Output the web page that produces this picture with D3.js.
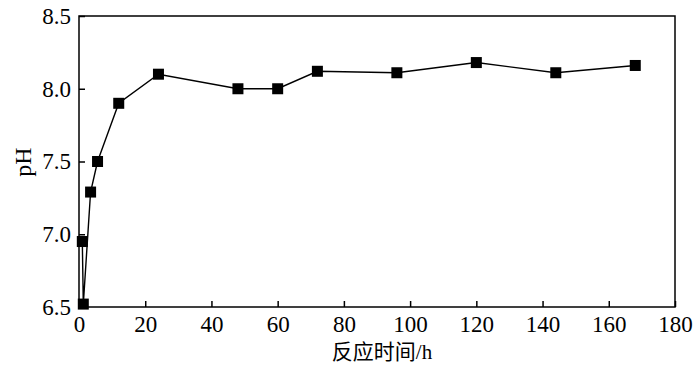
<!DOCTYPE html>
<html>
<head>
<meta charset="utf-8">
<script src="https://cdn.jsdelivr.net/npm/d3@7"></script>
<style>
  body { margin: 0; background: #fff; }
</style>
</head>
<body>
<script>
const hours = [1, 1.3, 3.5, 5.6, 12, 24, 48, 60, 72, 96, 120, 144, 168]
const phValues = [6.95, 6.52, 7.29, 7.5, 7.9, 8.1, 8.0, 8.0, 8.12, 8.11, 8.18, 8.11, 8.16]
const xTicks = [0, 20, 40, 60, 80, 100, 120, 140, 160, 180]
const yTicks = [6.5, 7.0, 7.5, 8.0, 8.5]

const data = hours.map((h, i) => ({ h, ph: phValues[i] }))

const width = 700
const height = 369
const margin = { top: 16, right: 25, bottom: 62, left: 79 }
const serif = '"Liberation Serif", "Times New Roman", serif'
const cjk = '"Liberation Serif", "Noto Sans CJK SC", serif'

const svg = d3.select('body')
    .append('svg')
    .attr('width', width)
    .attr('height', height)

const x = d3.scaleLinear()
    .domain([0, 180])
    .range([margin.left, width - margin.right])

const y = d3.scaleLinear()
    .domain([6.5, 8.5])
    .range([height - margin.bottom, margin.top])

// frame
svg.append('rect')
    .attr('x', margin.left)
    .attr('y', margin.top)
    .attr('width', width - margin.left - margin.right)
    .attr('height', height - margin.top - margin.bottom)
    .attr('fill', 'none')
    .attr('stroke', '#000')
    .attr('stroke-width', 1.5)

// bottom axis, ticks inward
const xAxis = svg.append('g')
    .attr('transform', `translate(0, ${height - margin.bottom})`)
    .call(d3.axisBottom(x).tickValues(xTicks).tickSize(-6).tickPadding(9).tickFormat(d3.format('d')))
xAxis.select('.domain').remove()
xAxis.selectAll('line').attr('stroke-width', 1.5)

// left axis, ticks inward
const yAxis = svg.append('g')
    .attr('transform', `translate(${margin.left}, 0)`)
    .call(d3.axisLeft(y).tickValues(yTicks).tickSize(-6).tickPadding(8).tickFormat(d3.format('.1f')))
yAxis.select('.domain').remove()
yAxis.selectAll('line').attr('stroke-width', 1.5)

svg.selectAll('.tick text')
    .style('font-family', serif)
    .style('font-size', '23px')
    .attr('fill', '#000')

// line
svg.append('path')
    .datum(data)
    .attr('fill', 'none')
    .attr('stroke', '#000')
    .attr('stroke-width', 1.4)
    .attr('d', d3.line().x(d => x(d.h)).y(d => y(d.ph)))

// markers
const s = 11
svg.selectAll('.mark')
    .data(data)
    .join('rect')
    .attr('class', 'mark')
    .attr('x', d => x(d.h) - s / 2)
    .attr('y', d => y(d.ph) - s / 2)
    .attr('width', s)
    .attr('height', s)
    .attr('fill', '#000')

// axis titles
svg.append('text')
    .attr('x', 382)
    .attr('y', 359)
    .attr('text-anchor', 'middle')
    .style('font-family', cjk)
    .style('font-size', '21px')
    .text('反应时间/h')

svg.append('text')
    .attr('transform', 'translate(31, 162) rotate(-90)')
    .attr('text-anchor', 'middle')
    .style('font-family', serif)
    .style('font-size', '24px')
    .text('pH')
</script>
</body>
</html>
